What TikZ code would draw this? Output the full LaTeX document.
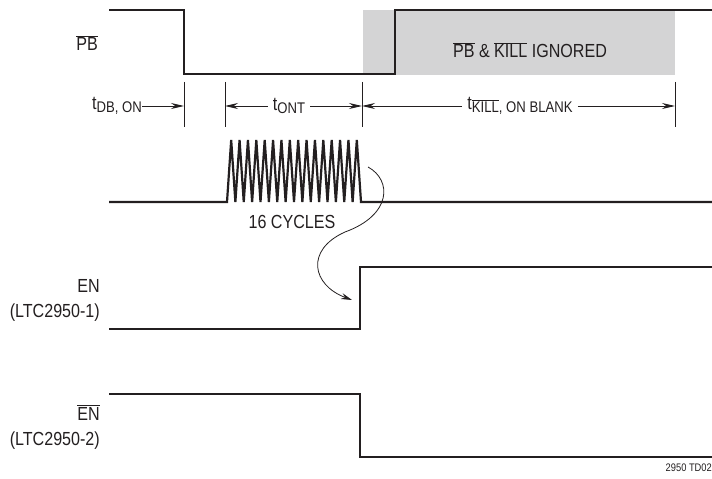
\documentclass[tikz,border=0pt]{standalone}
\usepackage{fontspec}
\setmainfont[FakeStretch=0.85]{Liberation Sans}
\usepackage{tikz}
\usetikzlibrary{arrows.meta,positioning,calc}
\definecolor{inkblack}{RGB}{35, 31, 32}
\definecolor{shade}{RGB}{212, 212, 213}
\newcommand{\ovl}[1]{\ensuremath{\overline{\mbox{#1}}}}
\newcommand{\tsub}[1]{t\raisebox{-2.5bp}{\fontsize{15.5}{17}\selectfont #1}}

\begin{document}
\begin{tikzpicture}[
    x=1bp, y=-1bp,
    every node/.style={font=\fontsize{19}{22}\selectfont, text=inkblack},
    signal/.style={line width=2.6bp, color=inkblack},
    tick/.style={line width=0.9bp, color=inkblack},
    dim/.style={-{Stealth[length=13bp, width=6bp]}, line width=0.9bp, color=inkblack},
    flow/.style={-{Stealth[length=11bp, width=6bp]}, line width=0.8bp, color=inkblack},
    lbl/.style={anchor=east, align=right, inner sep=0pt, font=\fontsize{19}{25}\selectfont}
]

\useasboundingbox (0,0) rectangle (712,479);

% Blanking window
\node[fill=shade, minimum width=312bp, minimum height=65bp, inner sep=0pt, anchor=north west] (blank) at (363,10) {};
\node (ignored) at (530,50) {\ovl{PB} \& \ovl{KILL} IGNORED};

% PB
\draw[signal] (109,10) -- (184,10) -- (184,74) -- (395,74) -- (395,10) -- (712,10);
\node[lbl] (pb) at (98,43) {\ovl{PB}};

% Tick marks
\foreach \name/\x in {m1/184, m2/225, m3/362, m4/675} {
    \coordinate (\name) at (\x,106);
    \draw[tick] (\x,82) -- (\x,127);
}

% Timing labels
\node[anchor=east, inner sep=0pt] (tdbon) at (142,106) {\tsub{DB, ON}};
\node[inner sep=5bp] (tont) at (289,106) {\tsub{ONT}};
\node[inner sep=5bp] (tkill) at (520,106) {\tsub{\ovl{KILL}, ON BLANK}};
\draw[dim] (tdbon.east) -- (m1);
\draw[dim] (tont.west) -- (m2);
\draw[dim] (tont.east) -- (m3);
\draw[dim] (tkill.west) -- (m3);
\draw[dim] (tkill.east) -- (m4);

% Oscillator burst
\draw[signal, line width=2.2bp] (109,202) -- (227,202)
    \foreach \i in {0,...,15} { -- ({227+8.375*\i+4.19},140) -- ({227+8.375*(\i+1)},202) }
    -- (712,202);
\node (cycles) at (292,222) {16 CYCLES};

% Cause arrow
\coordinate (burstend) at (368,167);
\coordinate (enrise) at (352,300);
\draw[flow] (burstend) .. controls (392,180) and (392,215) .. (345,232)
    .. controls (305,250) and (312,285) .. (enrise);

% EN (LTC2950-1)
\draw[signal] (109,329) -- (360,329) -- (360,267) -- (712,267);
\node[lbl] (en) at (100,300) {EN\\(LTC2950-1)};

% EN bar (LTC2950-2)
\draw[signal] (109,394) -- (360,394) -- (360,457) -- (712,457);
\node[lbl] (enb) at (100,427) {\ovl{EN}\\(LTC2950-2)};

\node[anchor=east, inner sep=0pt, font=\fontsize{11}{12}\selectfont] (figid) at (712,468) {2950 TD02};

\end{tikzpicture}
\end{document}
